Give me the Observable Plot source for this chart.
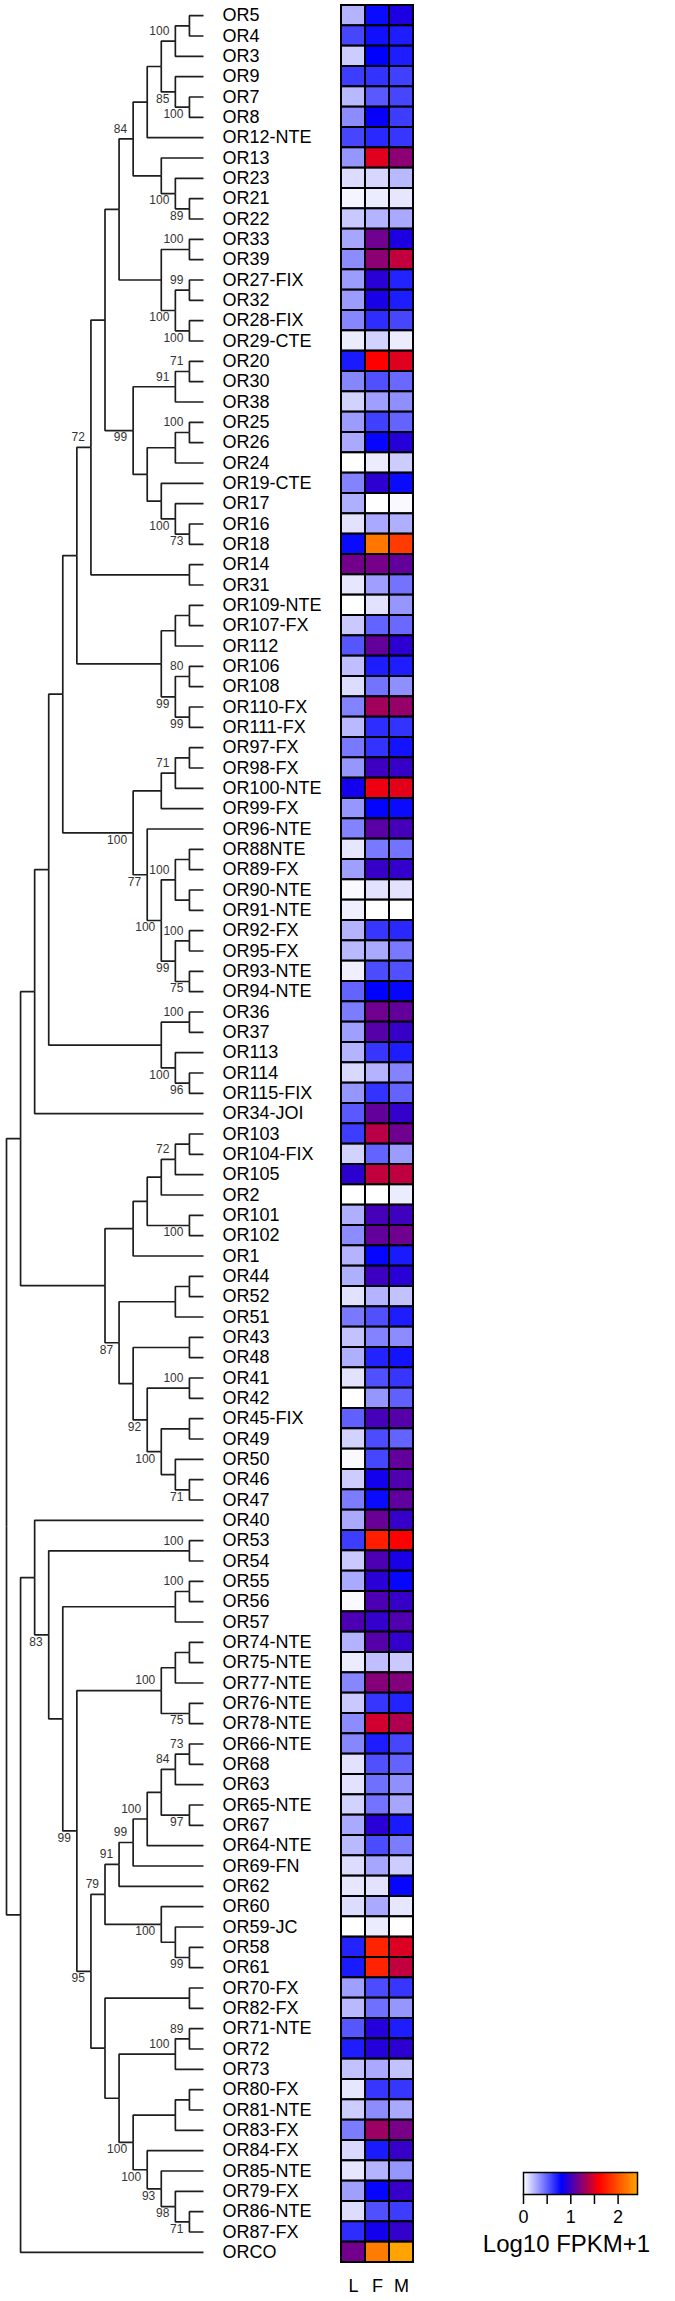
<!DOCTYPE html>
<html><head><meta charset="utf-8">
<script src="https://cdn.jsdelivr.net/npm/d3@7"></script>
<script src="https://cdn.jsdelivr.net/npm/@observablehq/plot@0.6"></script>
<style>
body{margin:0;background:#fff;font-family:"Liberation Sans",Arial,sans-serif;}
#chart{position:relative;width:675px;height:2301px;overflow:hidden;}
#chart > svg{position:absolute;overflow:visible;}
</style></head><body><div id="chart"></div>
<script>
// ---------- data ----------
const leaves = ["OR5","OR4","OR3","OR9","OR7","OR8","OR12-NTE","OR13","OR23","OR21",
"OR22","OR33","OR39","OR27-FIX","OR32","OR28-FIX","OR29-CTE","OR20","OR30","OR38",
"OR25","OR26","OR24","OR19-CTE","OR17","OR16","OR18","OR14","OR31","OR109-NTE",
"OR107-FX","OR112","OR106","OR108","OR110-FX","OR111-FX","OR97-FX","OR98-FX","OR100-NTE","OR99-FX",
"OR96-NTE","OR88NTE","OR89-FX","OR90-NTE","OR91-NTE","OR92-FX","OR95-FX","OR93-NTE","OR94-NTE","OR36",
"OR37","OR113","OR114","OR115-FIX","OR34-JOI","OR103","OR104-FIX","OR105","OR2","OR101",
"OR102","OR1","OR44","OR52","OR51","OR43","OR48","OR41","OR42","OR45-FIX",
"OR49","OR50","OR46","OR47","OR40","OR53","OR54","OR55","OR56","OR57",
"OR74-NTE","OR75-NTE","OR77-NTE","OR76-NTE","OR78-NTE","OR66-NTE","OR68","OR63","OR65-NTE","OR67",
"OR64-NTE","OR69-FN","OR62","OR60","OR59-JC","OR58","OR61","OR70-FX","OR82-FX","OR71-NTE",
"OR72","OR73","OR80-FX","OR81-NTE","OR83-FX","OR84-FX","OR85-NTE","OR79-FX","OR86-NTE","OR87-FX","ORCO"];

const columns = ["L","F","M"];

const valuesL = [0.24,0.58,0.16,0.61,0.22,0.36,0.58,0.33,0.11,0.03,
0.17,0.28,0.36,0.31,0.31,0.38,0.06,0.72,0.38,0.14,
0.31,0.27,0,0.39,0.25,0.09,0.77,1.16,0.08,0,
0.17,0.53,0.20,0.11,0.39,0.22,0.42,0.33,0.86,0.33,
0.39,0.08,0.30,0.02,0.05,0.24,0.22,0.05,0.49,0.41,
0.30,0.24,0.12,0.33,0.52,0.61,0.14,0.94,0,0.25,
0.36,0.24,0.25,0.09,0.42,0.19,0.25,0.09,0,0.50,
0.14,0.02,0.16,0.41,0.27,0.61,0.17,0.27,0.02,1.04,
0.24,0.06,0.38,0.17,0.36,0.38,0.09,0.09,0.14,0.27,
0.22,0.11,0.08,0.11,0,0.69,0.72,0.30,0.22,0.53,
0.71,0.19,0.08,0.16,0.41,0.12,0.08,0.30,0.11,0.66,1.16];

const valuesF = [0.77,0.75,0.80,0.64,0.52,0.82,0.67,1.50,0.13,0.06,
0.24,1.15,1.24,0.93,0.88,0.66,0.14,1.60,0.55,0.30,
0.60,0.78,0.06,0.94,0,0.27,2.18,1.17,0.30,0.09,
0.49,1.11,0.71,0.44,1.31,0.66,0.64,0.99,1.55,0.79,
1.08,0.42,0.97,0.09,0,0.63,0.27,0.56,0.80,1.15,
1.07,0.63,0.24,0.64,1.11,1.38,0.49,1.41,0,1.02,
1.11,0.78,0.99,0.24,0.55,0.39,0.69,0.55,0.33,1.02,
0.56,0.58,0.86,0.77,1.13,1.75,1.04,0.93,1.04,0.96,
1.07,0.20,1.22,0.63,1.46,0.71,0.55,0.45,0.44,0.93,
0.56,0.28,0.09,0.27,0.06,1.77,1.77,0.56,0.45,0.91,
0.91,0.27,0.63,0.36,1.29,0.72,0.24,0.78,0.55,0.86,2.21];

const valuesM = [0.89,0.71,0.71,0.60,0.58,0.61,0.63,1.24,0.22,0.08,
0.27,0.89,1.41,0.69,0.71,0.58,0.06,1.50,0.47,0.35,
0.49,0.92,0.16,0.77,0.02,0.25,1.89,1.11,0.44,0.33,
0.47,0.94,0.71,0.35,1.27,0.64,0.74,0.97,1.52,0.77,
1.02,0.44,0.96,0.09,0,0.67,0.42,0.55,0.78,1.11,
0.97,0.71,0.39,0.49,0.96,1.15,0.31,1.40,0.06,1.00,
1.15,0.72,0.93,0.19,0.71,0.36,0.74,0.63,0.50,1.07,
0.49,1.11,1.05,1.10,0.97,1.60,0.88,0.78,0.97,1.05,
0.96,0.17,1.21,0.69,1.35,0.58,0.49,0.35,0.28,0.72,
0.41,0.16,0.78,0.08,0,1.49,1.41,0.63,0.33,0.71,
0.94,0.19,0.63,0.27,1.18,0.97,0.33,0.97,0.61,0.96,2.40];

const colorStops = [0, 0.8, 1.6, 2.41];
const colorRange = ["#ffffff", "#0000ff", "#ff0000", "#ffa500"];
const legendTicks = [0, 0.5, 1, 1.5, 2];
const legendTitle = "Log10 FPKM+1";

// tree topology (Newick, internal labels = bootstrap support)
const nwK = "((((((OR5,OR4),OR3)100,(OR9,(OR7,OR8)100)85),OR12-NTE),(OR13,(OR23,(OR21,OR22)89)100))84,((OR33,OR39)100,((OR27-FIX,OR32)99,(OR28-FIX,OR29-CTE)100)100))";
const nwV = "(((OR20,OR30)71,OR38)91,(((OR25,OR26)100,OR24),(OR19-CTE,(OR17,(OR16,OR18)73)100)))99";
const nwXN = "((" + nwK + "," + nwV + "),(OR14,OR31))72";
const nwZ = "(((OR109-NTE,OR107-FX),OR112),((OR106,OR108)80,(OR110-FX,OR111-FX)99)99)";
const nwCC = "((((OR97-FX,OR98-FX),OR100-NTE)71,OR99-FX),(OR96-NTE,(((OR88NTE,OR89-FX),(OR90-NTE,OR91-NTE))100,((OR92-FX,OR95-FX)100,(OR93-NTE,OR94-NTE)75)99)100)77)100";
const nwBB = "((" + nwXN + "," + nwZ + ")," + nwCC + ")";
const nwJJ = "((OR36,OR37)100,(OR113,(OR114,OR115-FIX)96)100)";
const nwLL = "((" + nwBB + "," + nwJJ + "),OR34-JOI)";
const nwSS = "(((OR44,OR52),OR51),((OR43,OR48),((OR41,OR42)100,((OR45-FIX,OR49),(OR50,(OR46,OR47)71))100)92))87";
const nwMM = "((((((OR103,OR104-FIX),OR105)72,OR2),(OR101,OR102)100),OR1)," + nwSS + ")";
const nwX1 = "(" + nwLL + "," + nwMM + ")";
const nwJ = "(((OR66-NTE,OR68)73,OR63)84,(OR65-NTE,OR67)97)";
const nwM = "(((" + nwJ + ",OR64-NTE)100,OR69-FN)99,OR62)91";
const nwO = "(OR60,(OR59-JC,(OR58,OR61)99))100";
const nwN = "(" + nwM + "," + nwO + ")79";
const nwS = "(((OR71-NTE,OR72)89,OR73)100,(((OR80-FX,OR81-NTE),OR83-FX),(OR84-FX,(OR85-NTE,(OR79-FX,(OR86-NTE,OR87-FX)71)98)93)100)100)";
const nwQ = "((OR70-FX,OR82-FX)," + nwS + ")";
const nwP = "(" + nwN + "," + nwQ + ")95";
const nwH = "(((OR74-NTE,OR75-NTE),OR77-NTE),(OR76-NTE,OR78-NTE)75)100";
const nwG = "(" + nwH + "," + nwP + ")99";
const nwE = "(((OR55,OR56)100,OR57)," + nwG + ")";
const nwD = "((OR53,OR54)100," + nwE + ")83";
const nwX2 = "((OR40," + nwD + "),ORCO)";
const treeNewick = "(" + nwX1 + "," + nwX2 + ");";

// ---------- build ----------
function parseNewick(s) {
  let i = 0;
  function node() {
    const n = {children: null, name: "", label: ""};
    if (s[i] === "(") {
      i++; n.children = [node()];
      while (s[i] === ",") { i++; n.children.push(node()); }
      i++;
    }
    const start = i;
    while (i < s.length && !",();".includes(s[i])) i++;
    const tok = s.slice(start, i);
    if (n.children) n.label = tok; else n.name = tok;
    return n;
  }
  return node();
}
const rowOf = new Map(leaves.map((d, i) => [d, i]));
const root = parseNewick(treeNewick);
(function layout(n) {
  if (!n.children) { n.h = 0; n.y = rowOf.get(n.name); return; }
  n.children.forEach(layout);
  n.h = 1 + d3.max(n.children, c => c.h);
  n.y = (n.children[0].y + n.children[n.children.length - 1].y) / 2;
})(root);
const links = [], tips = [], bsAbove = [], bsBelow = [];
(function walk(n) {
  if (!n.children) { tips.push(n); return; }
  n.children.forEach((c, i) => {
    links.push({x1: n.h, y1: n.y, x2: c.h, y2: c.y});
    if (c.label) (i === 0 ? bsAbove : bsBelow).push(c);
    walk(c);
  });
})(root);

const colorOpts = {type: "linear", domain: colorStops, range: colorRange, interpolate: "rgb", clamp: true};
const H = 2301, TOP = 5, BOTTOM = 39;
const font = "'Liberation Sans', Arial, sans-serif";

const treePlot = Plot.plot({
  width: 330, height: H, marginLeft: 6, marginRight: 127, marginTop: TOP, marginBottom: BOTTOM,
  style: {fontFamily: font, background: "transparent"},
  x: {domain: [root.h, 0], axis: null},
  y: {domain: [-0.5, leaves.length - 0.5], reverse: true, axis: null},
  marks: [
    Plot.link(links, {x1: "x1", y1: "y1", x2: "x2", y2: "y2", curve: "step-before", stroke: "#1e1e1e", strokeWidth: 1.7}),
    Plot.text(tips, {x: "h", y: "y", text: "name", textAnchor: "start", dx: 19, fontSize: 18, fill: "black"}),
    Plot.text(bsAbove, {x: "h", y: "y", text: "label", textAnchor: "end", dx: -6, dy: -10, fontSize: 12, fill: "#333"}),
    Plot.text(bsBelow, {x: "h", y: "y", text: "label", textAnchor: "end", dx: -6, dy: 7, fontSize: 12, fill: "#333"})
  ]
});

const cells = leaves.flatMap((name, i) => [valuesL, valuesF, valuesM].map((vals, j) => ({name, col: columns[j], value: vals[i]})));
const heatPlot = Plot.plot({
  width: 100, height: H, marginLeft: 11, marginRight: 17, marginTop: TOP, marginBottom: BOTTOM,
  style: {fontFamily: font, background: "transparent"},
  x: {domain: columns, padding: 0, label: null},
  y: {domain: leaves, padding: 0, axis: null},
  color: colorOpts,
  marks: [
    Plot.cell(cells, {x: "col", y: "name", fill: "value", stroke: "black", strokeWidth: 2}),
    Plot.axisX({anchor: "bottom", tickSize: 0, tickPadding: 17, fontSize: 18, label: null})
  ]
});

const legendPlot = Plot.plot({
  width: 215, height: 201, marginLeft: 63, marginRight: 38, marginTop: 72, marginBottom: 107,
  style: {fontFamily: font, background: "transparent"},
  x: {domain: [0, colorStops[colorStops.length - 1]], label: null},
  y: {domain: [0, 1], axis: null},
  color: colorOpts,
  marks: [
    Plot.raster({x1: 0, x2: colorStops[colorStops.length - 1], y1: 0, y2: 1, fill: (x, y) => x}),
    Plot.frame({stroke: "black", strokeWidth: 1.5}),
    Plot.axisX({ticks: legendTicks, tickSize: 10, tickPadding: 6, strokeWidth: 1.5,
      tickFormat: d => Number.isInteger(d) ? String(d) : "", fontSize: 18, label: null}),
    Plot.text([legendTitle], {frameAnchor: "bottom", lineAnchor: "middle", dx: -14, dy: 50, fontSize: 24, fill: "black"})
  ]
});

const chart = document.getElementById("chart");
[[treePlot, 0, 0], [heatPlot, 330, 0], [legendPlot, 460, 2100]].forEach(([el, left, top]) => {
  el.style.position = "absolute"; el.style.left = left + "px"; el.style.top = top + "px";
  chart.appendChild(el);
});
</script></body></html>
